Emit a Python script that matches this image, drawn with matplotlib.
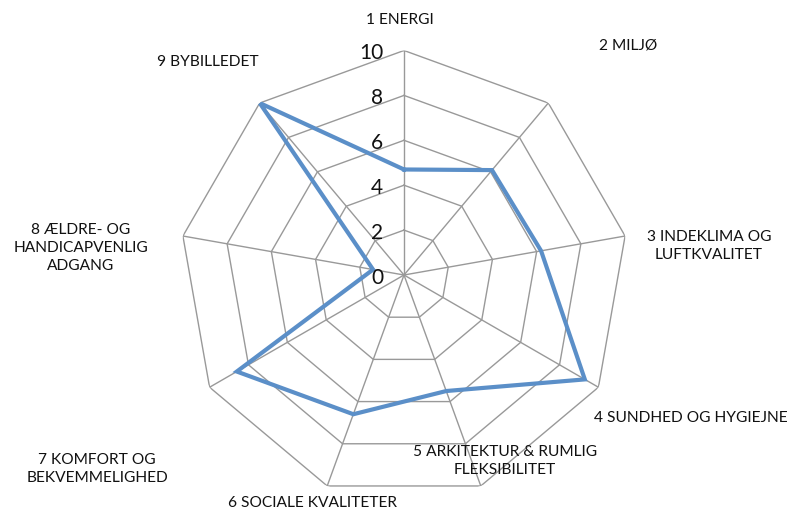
import numpy as np
import matplotlib
matplotlib.use("Agg")
import matplotlib.pyplot as plt

categories = ["1 ENERGI", "2 MILJØ", "3 INDEKLIMA OG\nLUFTKVALITET", "4 SUNDHED OG HYGIEJNE",
              "5 ARKITEKTUR & RUMLIG\nFLEKSIBILITET", "6 SOCIALE KVALITETER",
              "7 KOMFORT OG\nBEKVEMMELIGHED", "8 ÆLDRE- OG\nHANDICAPVENLIG\nADGANG", "9 BYBILLEDET"]
values = [4.7, 6.1, 6.2, 9.3, 5.5, 6.6, 8.6, 1.4, 10.0]
ring_levels = [0, 2, 4, 6, 8, 10]
tick_labels = ["0", "2", "4", "6", "8", "10"]

# label positions in pixels (center x, center y from top)
label_pos = [(400, 20), (628, 45), (709, 246), (691, 418), (505, 461),
             (312, 503), (97, 469), (81, 248), (208, 62)]

W, H = 793, 516
fig = plt.figure(figsize=(W / 100, H / 100), dpi=100)
cx, cy, R = 404, 275, 224.5
ax = fig.add_axes([(cx - R) / W, 1 - (cy + R) / H, 2 * R / W, 2 * R / H], projection="polar")
ax.set_theta_zero_location("N")
ax.set_theta_direction(-1)
ax.set_ylim(0, 10)
ax.grid(False)
ax.spines["polar"].set_visible(False)
ax.set_xticks([])
ax.set_yticks([])
ax.patch.set_visible(False)

n = len(categories)
angles = np.arange(n) * 2 * np.pi / n
closed = np.append(angles, angles[0])

grid_color = "#999999"
for lvl in ring_levels[1:]:
    ax.plot(closed, [lvl] * (n + 1), color=grid_color, lw=1.0, zorder=1)
for a in angles:
    ax.plot([a, a], [0, 10], color=grid_color, lw=1.0, zorder=1)

ax.plot(closed, values + [values[0]], color="#5B8FC8", lw=3.0, zorder=3,
        solid_joinstyle="miter")

for lvl, lab in zip(ring_levels, tick_labels):
    ax.annotate(lab, xy=(0, lvl), xytext=(-15, -2), textcoords="offset points",
                ha="right", va="center", fontsize=15, family="Lato", color="#111111")

for (x, y), lab in zip(label_pos, categories):
    fig.text(x / W, 1 - y / H, lab, ha="center", va="center", fontsize=11.2,
             family="Lato", color="#111111", linespacing=1.4, multialignment="center")

fig.savefig("out.png", dpi=100)
